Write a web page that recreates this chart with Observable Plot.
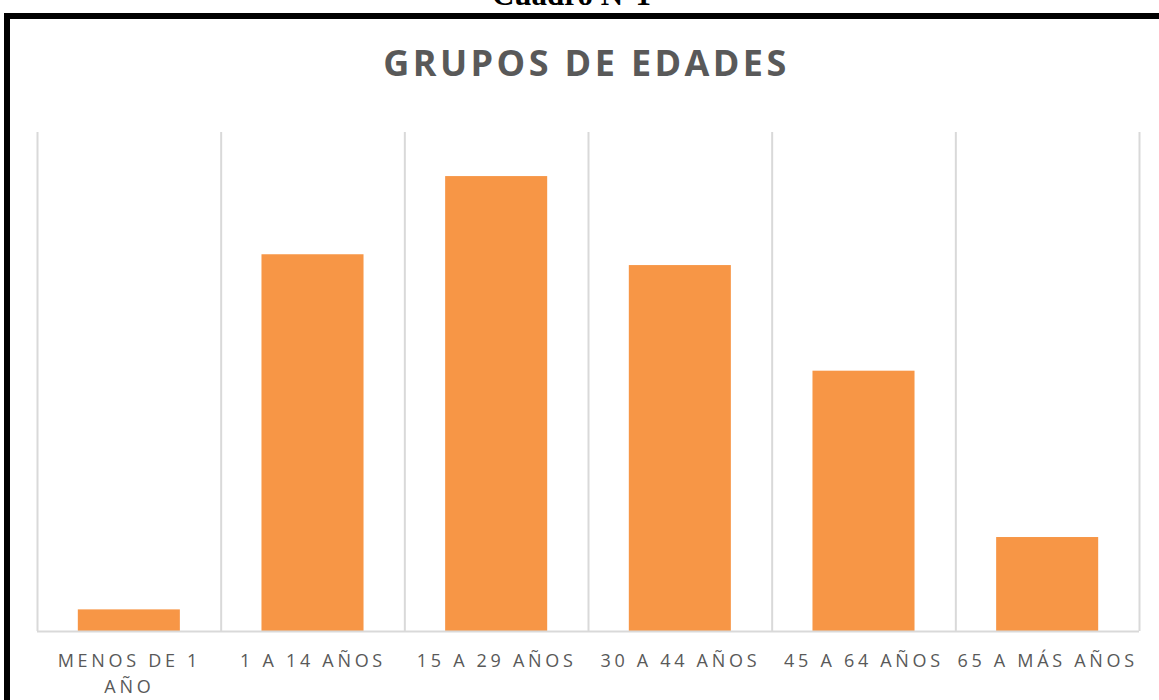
<!DOCTYPE html>
<html>
<head>
<meta charset="utf-8">
<script src="https://cdn.jsdelivr.net/npm/d3@7"></script>
<script src="https://cdn.jsdelivr.net/npm/@observablehq/plot@0.6"></script>
<style>
  html, body { margin: 0; padding: 0; background: #fff; overflow: hidden; }
  body { position: relative; width: 1159px; height: 700px; }
  #cuadro { position: absolute; left: -8px; width: 1159px; top: -21px; line-height: 31px; text-align: center;
    font-family: "Liberation Serif", "Times New Roman", serif; font-weight: bold; font-size: 31px; color: #000; }
  #frame { position: absolute; left: 4px; top: 13px; width: 1200px; height: 760px;
    border: 6px solid #000; box-sizing: border-box; }
  #title { position: absolute; left: 7px; width: 1159px; top: 38px; text-align: center;
    font-family: "Open Sans", sans-serif; font-weight: 700; font-size: 36px; letter-spacing: 3.4px; color: #595959; }
  #chart { position: absolute; left: 0; top: 100px; }
  #chart svg g[aria-label="x-axis tick label"] text { letter-spacing: 3.7px; }
</style>
</head>
<body>
<div id="cuadro">Cuadro N°1</div>
<div id="frame"></div>
<div id="title">GRUPOS DE EDADES</div>
<div id="chart"></div>
<script>
const categories = ["MENOS DE 1 AÑO", "1 A 14 AÑOS", "15 A 29 AÑOS", "30 A 44 AÑOS", "45 A 64 AÑOS", "65 A MÁS AÑOS"];
const tickLabels = ["MENOS DE 1\nAÑO", "1 A 14 AÑOS", "15 A 29 AÑOS", "30 A 44 AÑOS", "45 A 64 AÑOS", "65 A MÁS AÑOS"];
const values = [26, 453, 547, 440, 313, 113];

const data = categories.map((c, i) => ({category: c, value: values[i]}));

const width = 1159, marginLeft = 37, marginRight = 20;
const step = (width - marginLeft - marginRight) / categories.length;

const chart = Plot.plot({
  width: width,
  height: 600,
  marginLeft: marginLeft,
  marginRight: marginRight,
  marginTop: 32,
  marginBottom: 69,
  x: {domain: categories, paddingInner: 0.4444, paddingOuter: 0.2222, round: false, label: null},
  y: {domain: [0, 600], axis: null},
  style: {fontFamily: "'Open Sans', sans-serif", color: "#595959", background: "transparent"},
  marks: [
    Plot.ruleX(categories, {x: d => d, dx: -step / 2, stroke: "#d9d9d9", strokeWidth: 2}),
    Plot.ruleX(categories.slice(-1), {x: d => d, dx: step / 2, stroke: "#d9d9d9", strokeWidth: 2}),
    Plot.barY(data, {x: "category", y: "value", fill: "#F79646"}),
    Plot.ruleY([0], {stroke: "#d9d9d9", strokeWidth: 2}),
    Plot.axisX({
      tickSize: 0,
      tickPadding: 17,
      fontSize: 18,
      lineHeight: 1.45,
      fill: "#595959",
      tickFormat: d => tickLabels[categories.indexOf(d)],
      label: null
    })
  ]
});
document.getElementById("chart").appendChild(chart);
</script>
</body>
</html>
